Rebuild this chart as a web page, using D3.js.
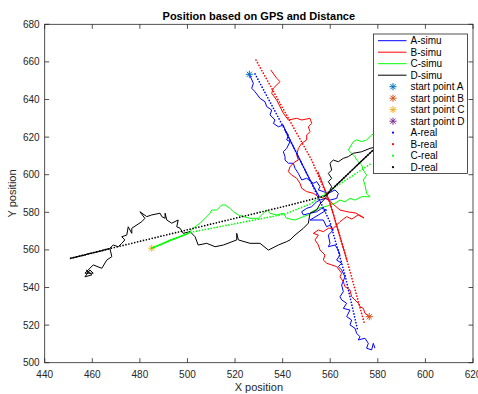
<!DOCTYPE html>
<html>
<head>
<meta charset="utf-8">
<script src="https://cdn.jsdelivr.net/npm/d3@7"></script>
<style>
  body { margin: 0; background: #fff; }
  svg { display: block; font-family: "Liberation Sans", Arial, Helvetica, sans-serif; }
</style>
</head>
<body>
<svg id="chart" width="478" height="394"></svg>
<script>
// ---- data (X, Y positions) ----
const xTicks = [440, 460, 480, 500, 520, 540, 560, 580, 600, 620];
const yTicks = [500, 520, 540, 560, 580, 600, 620, 640, 660, 680];
const titleText = 'Position based on GPS and Distance';

const startA = [526.0, 653.4];
const startB = [576.4, 524.5];
const startC = [485.0, 560.9];
const startD = [450.9, 555.5];

const simuA = [
  [526.0,653.4],[527.7,648.6],[527.0,646.0],[528.4,644.1],[530.5,640.6],[532.6,638.8],[533.3,636.2],
  [535.4,634.4],[534.7,631.8],[536.8,629.1],[536.1,627.3],[538.2,625.5],[540.3,626.4],[541.0,623.8],
  [542.4,621.1],[541.7,618.5],[543.1,617.6],[541.7,614.0],[540.3,612.2],[541.0,609.6],[541.0,607.8],
  [542.4,606.1],[544.5,606.1],[545.2,603.4],[546.6,600.7],[548.0,597.2],[550.1,598.1],[552.9,595.4],
  [554.3,596.3],[555.7,593.6],[555.0,591.9],[557.1,591.0],[559.2,590.1],[562.0,591.9],[563.4,590.1],
  [562.7,587.4],[559.9,586.5],[557.8,587.4],[555.7,586.5],[554.3,585.6],[552.2,583.0],[550.1,582.1],
  [548.0,580.3],[548.7,578.6],[554.3,580.3],[556.4,582.1],[558.5,581.2],[551.5,575.9],[557.1,575.9],
  [558.5,572.3],[559.9,573.2],[561.3,570.6],[559.2,567.9],[559.9,563.5],[559.2,561.7],[562.0,562.6],
  [563.4,559.9],[564.1,557.3],[562.7,554.6],[564.8,552.9],[563.4,551.1],[564.8,549.3],[566.2,545.7],
  [564.8,541.3],[565.5,537.8],[564.1,535.1],[564.8,533.4],[566.9,531.6],[565.5,528.9],[568.3,528.0],
  [566.9,524.5],[569.0,522.7],[568.3,520.1],[570.4,518.3],[571.1,515.6],[572.5,513.8],[571.8,512.1],
  [574.6,513.0],[576.0,510.3],[575.3,507.7],[577.4,506.8],[578.1,510.3],[578.8,507.7]
];

const simuB = [
  [576.4,524.5],[574.6,526.3],[573.9,528.9],[572.5,529.8],[571.8,531.6],[569.0,535.1],[568.3,538.7],
  [566.2,540.4],[565.5,543.1],[564.1,545.7],[564.8,547.6],[562.7,551.1],[560.6,552.0],[558.5,552.9],
  [557.1,554.6],[557.8,557.3],[555.7,559.9],[555.0,562.6],[553.6,565.3],[555.0,567.9],[552.9,568.8],
  [555.0,570.6],[557.1,569.7],[559.2,571.5],[561.3,571.5],[562.7,573.2],[564.1,575.0],[566.9,577.7],
  [569.1,576.4],[571.7,578.6],[574.2,577.0],[570.8,579.6],[567.5,580.2],[564.1,581.2],[561.2,584.4],
  [558.6,587.1],[555.0,588.3],[552.9,590.1],[550.1,591.0],[548.0,592.8],[547.3,595.4],[545.9,598.1],
  [543.8,599.8],[542.4,601.6],[543.1,604.3],[545.2,606.9],[546.6,607.8],[545.9,610.5],[546.6,614.0],
  [548.0,616.7],[550.1,618.5],[550.1,621.1],[551.5,622.9],[550.8,625.5],[552.2,627.3],[551.5,630.0],
  [548.0,629.1],[545.9,630.0],[542.4,629.1],[540.3,632.7],[537.5,639.7],[535.4,643.3],[536.1,646.0],
  [538.9,649.5],[537.5,651.3],[535.0,655.7]
];

const simuC = [
  [485.0,560.9],[492.7,565.3],[500.2,568.5],[502.4,571.5],[505.3,574.2],[507.4,576.8],[509.5,579.5],
  [510.2,581.2],[512.3,581.2],[514.4,583.9],[515.8,583.9],[517.9,582.1],[519.3,580.3],[521.4,578.6],
  [523.5,577.7],[526.3,576.8],[529.8,576.8],[531.9,579.5],[533.3,581.2],[534.7,579.5],[537.5,578.6],
  [540.3,579.5],[541.7,576.8],[545.2,575.9],[548.7,577.7],[550.8,578.6],[552.2,580.3],[555.0,582.1],
  [557.8,583.0],[559.9,583.9],[562.0,584.8],[564.1,586.5],[566.2,585.6],[568.3,587.4],[570.4,586.5],
  [573.2,588.3],[576.7,588.3],[575.3,590.1],[574.6,594.5],[573.9,597.2],[575.3,599.8],[573.9,602.5],
  [573.2,605.2],[571.1,607.8],[570.4,609.6],[567.6,613.1],[569.7,617.6],[571.1,618.5],[573.2,617.6],
  [575.3,618.5],[577.4,621.1],[580.9,623.8]
];

const simuD = [
  [458.2,547.7],[457.6,549.3],[459.8,546.7],[456.9,545.7],[459.0,549.3],[460.4,547.6],[456.9,547.6],
  [460.4,552.0],[464.0,550.2],[466.1,554.6],[468.2,556.4],[467.4,560.9],[468.8,562.6],[470.9,561.7],
  [472.4,563.5],[473.7,565.3],[472.4,567.0],[474.5,567.9],[475.1,572.3],[476.6,568.8],[476.6,571.5],
  [480.8,575.0],[482.1,576.8],[480.0,580.3],[482.9,577.7],[485.0,578.6],[488.5,579.5],[489.2,577.7],
  [490.6,576.8],[490.6,579.5],[491.3,575.9],[493.4,574.2],[496.1,575.9],[495.5,572.3],[496.9,571.5],
  [498.2,568.8],[501.1,569.7],[503.2,567.0],[504.5,562.6],[508.1,563.5],[511.6,561.7],[515.1,562.6],
  [520.7,565.3],[520.7,568.8],[521.4,565.3],[526.3,563.5],[530.5,563.5],[534.0,559.9],[538.2,562.6],
  [541.7,564.4],[543.1,565.3],[545.2,567.9],[548.7,571.5],[550.8,574.2],[551.5,579.5],[552.9,580.3],
  [554.3,581.2],[555.7,584.4],[558.5,588.3],[560.6,593.6],[559.2,596.3],[560.6,598.1],[559.2,600.7],
  [560.6,602.5],[559.9,606.1],[561.3,607.8],[563.4,606.9],[565.5,608.7],[567.6,609.6],[569.7,611.4],
  [573.2,612.2],[576.7,614.0],[580.9,615.3]
];

// real tracks: vertices of the dotted paths, plus the stretches where the dots crowd together
const realA = [[528.4,653.6],[541.0,623.8],[551.5,597.2],[559.9,574.8],[566.2,546.7],[571.5,517.4]];
const realB = [[574.2,521.6],[567.0,554.6],[559.9,585.0],[552.2,607.8],[528.8,661.0]];
const realC = [[485.0,560.9],[501.1,569.3],[541.0,579.1],[551.5,584.4],[564.1,595.1],[577.5,606.2]];
const realD = [[450.9,555.5],[467.4,560.7],[543.1,583.9],[557.8,588.7],[568.3,601.4],[578.0,613.1]];
const denseA = [[541.0,623.8],[551.5,597.2],[555.5,588.0]];
const denseB = [[567.0,554.6],[559.9,585.0],[554.9,601.4]];
const denseC = [[485.0,560.9],[501.1,569.3]];
const denseD1 = [[450.9,555.5],[467.4,560.7]];
const denseD2 = [[557.8,588.7],[568.3,601.4],[578.0,613.1]];

const legendLabels = ['A-simu','B-simu','C-simu','D-simu','start point A','start point B',
  'start point C','start point D','A-real','B-real','C-real','D-real'];

// ---- layout ----
const svg = d3.select('#chart');
const margin = { left: 44.7, right: 473, top: 24.3, bottom: 362.7 };
const x = d3.scaleLinear().domain([440, 620]).range([margin.left, margin.right]);
const y = d3.scaleLinear().domain([500, 680]).range([margin.bottom, margin.top]);
const axisColor = '#262626';
const lineColors = { A: '#0000ff', B: '#ff0000', C: '#00ff00', D: '#000000' };
const starColors = { A: '#0072bd', B: '#d95319', C: '#edb120', D: '#7e2f8e' };

svg.append('defs').append('clipPath').attr('id', 'clip')
  .append('rect').attr('x', margin.left).attr('y', margin.top)
  .attr('width', margin.right - margin.left).attr('height', margin.bottom - margin.top);

const plot = svg.append('g').attr('clip-path', 'url(#clip)');
const line = d3.line().x(d => x(d[0])).y(d => y(d[1]));

// simulated paths
[['A', simuA], ['B', simuB], ['C', simuC], ['D', simuD]].forEach(([k, pts]) => {
  plot.append('path').datum(pts).attr('d', line)
    .attr('fill', 'none').attr('stroke', lineColors[k]).attr('stroke-width', 1)
    .attr('stroke-linejoin', 'round');
});

// start point markers
function star(g, cx, cy, color, r) {
  const p = d3.path();
  p.moveTo(cx - r, cy); p.lineTo(cx + r, cy);
  p.moveTo(cx, cy - r); p.lineTo(cx, cy + r);
  const q = r * 0.72;
  p.moveTo(cx - q, cy - q); p.lineTo(cx + q, cy + q);
  p.moveTo(cx - q, cy + q); p.lineTo(cx + q, cy - q);
  g.append('path').attr('d', p.toString()).attr('stroke', color).attr('stroke-width', 1).attr('fill', 'none');
}
[['A', startA], ['B', startB], ['C', startC]].forEach(([k, s]) => star(plot, x(s[0]), y(s[1]), starColors[k], 3.6));

// real (dotted) paths
function dotted(pts, color, gap, w) {
  plot.append('path').datum(pts).attr('d', line)
    .attr('fill', 'none').attr('stroke', color).attr('stroke-width', w)
    .attr('stroke-linecap', 'round').attr('stroke-dasharray', `0 ${gap}`);
}
dotted(realA, lineColors.A, 3, 1.7); dotted(denseA, lineColors.A, 1.1, 1.4);
dotted(realB, lineColors.B, 3, 1.7); dotted(denseB, lineColors.B, 1.1, 1.4);
dotted(realC, lineColors.C, 3, 1.7); dotted(denseC, lineColors.C, 1.1, 1.4);
dotted(realD, lineColors.D, 3, 1.7); dotted(denseD1, lineColors.D, 1.1, 1.5); dotted(denseD2, lineColors.D, 1.1, 1.4);

// ---- axes ----
const tick = 4.5;
const ax = svg.append('g').attr('stroke', axisColor).attr('stroke-width', 0.8);
ax.append('rect').attr('x', margin.left).attr('y', margin.top)
  .attr('width', margin.right - margin.left).attr('height', margin.bottom - margin.top).attr('fill', 'none');
xTicks.forEach(v => {
  ax.append('line').attr('x1', x(v)).attr('x2', x(v)).attr('y1', margin.bottom).attr('y2', margin.bottom - tick);
  ax.append('line').attr('x1', x(v)).attr('x2', x(v)).attr('y1', margin.top).attr('y2', margin.top + tick);
});
yTicks.forEach(v => {
  ax.append('line').attr('y1', y(v)).attr('y2', y(v)).attr('x1', margin.left).attr('x2', margin.left + tick);
  ax.append('line').attr('y1', y(v)).attr('y2', y(v)).attr('x1', margin.right).attr('x2', margin.right - tick);
});
svg.append('g').selectAll('text').data(xTicks).join('text')
  .attr('x', d => x(d)).attr('y', margin.bottom + 15).attr('text-anchor', 'middle')
  .attr('fill', axisColor).style('font-size', '10px').text(d => d);
svg.append('g').selectAll('text').data(yTicks).join('text')
  .attr('x', margin.left - 5).attr('y', d => y(d) + 3.5).attr('text-anchor', 'end')
  .attr('fill', axisColor).style('font-size', '10px').text(d => d);

svg.append('text').attr('x', (margin.left + margin.right) / 2).attr('y', 391)
  .attr('text-anchor', 'middle').attr('fill', axisColor).style('font-size', '11px').text('X position');
svg.append('text').attr('transform', `translate(16,${(margin.top + margin.bottom) / 2}) rotate(-90)`)
  .attr('text-anchor', 'middle').attr('fill', axisColor).style('font-size', '11px').text('Y position');
svg.append('text').attr('x', (margin.left + margin.right) / 2).attr('y', 20)
  .attr('text-anchor', 'middle').attr('fill', '#000').style('font-size', '11px').style('font-weight', 'bold')
  .text(titleText);

// ---- legend ----
const lg = svg.append('g');
const lx = 373.5, ly = 34, lw = 94, lh = 139.5, rowH = 11.5;
lg.append('rect').attr('x', lx).attr('y', ly).attr('width', lw).attr('height', lh)
  .attr('fill', '#fff').attr('stroke', axisColor).attr('stroke-width', 0.8);
const keys = ['A', 'B', 'C', 'D'];
legendLabels.forEach((lab, i) => {
  const cy = ly + 6.7 + i * rowH;
  const k = keys[i % 4];
  if (i < 4) {
    lg.append('line').attr('x1', lx + 4.5).attr('x2', lx + 33).attr('y1', cy).attr('y2', cy)
      .attr('stroke', lineColors[k]).attr('stroke-width', 1);
  } else if (i < 8) {
    star(lg, lx + 19.5, cy, starColors[k], 3.6);
  } else {
    lg.append('circle').attr('cx', lx + 19.5).attr('cy', cy).attr('r', 1.1).attr('fill', lineColors[k]);
  }
  lg.append('text').attr('x', lx + 37).attr('y', cy + 3.5).attr('fill', '#000')
    .style('font-size', '10px').text(lab);
});
</script>
</body>
</html>
